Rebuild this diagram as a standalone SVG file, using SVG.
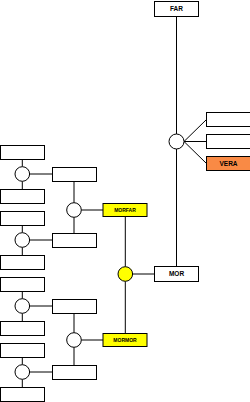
<svg xmlns="http://www.w3.org/2000/svg" width="250" height="402" viewBox="0 0 250 402">
<style>
.b{fill:#fff;stroke:#000;stroke-width:1}
.y{fill:#ffff00;stroke:#000;stroke-width:1}
.o{fill:#f98a45;stroke:#000;stroke-width:1}
.c{fill:#fff;stroke:#000;stroke-width:1}
.cy{fill:#ffff00;stroke:#000;stroke-width:1}
.l{stroke:#000;stroke-width:1;fill:none}
.t{font-family:"Liberation Sans",Arial,sans-serif;font-weight:bold;font-size:6.5px;text-anchor:middle;fill:#000}
.ts{font-family:"Liberation Sans",Arial,sans-serif;font-weight:bold;font-size:5px;text-anchor:middle;fill:#000}
</style>
<rect width="250" height="402" fill="#fff"/>
<g id="connectors">
<path class="l" d="M176.5 16.5V134M176.5 149V266.5"/>
<path class="l" d="M184 141.5L206.5 119.5M184 141.5H206.5M184 141.5L206.5 163.5"/>
<path class="l" d="M132.6 274H154.5M125.3 216.5V266.7M125.3 281.3V333.5"/>
<path class="l" d="M81.3 210H103M74 181.5V202.7M74 217.3V233.5"/>
<path class="l" d="M81.3 340H103M74 313.5V332.7M74 347.3V365.5"/>
<path class="l" d="M22.3 159.5V166.7M22.3 181.3V189.5M29.6 174H52.5"/>
<path class="l" d="M22.3 225.5V232.7M22.3 247.3V255.5M29.6 240H52.5"/>
<path class="l" d="M22.3 291.5V298.7M22.3 313.3V321.5M29.6 306H52.5"/>
<path class="l" d="M22.3 357.5V364.7M22.3 379.3V387.5M29.6 372H52.5"/>
</g>
<g id="far"><rect class="b" x="154.5" y="1.5" width="44" height="15"/><text class="t" x="176.5" y="11.3">FAR</text></g>
<g id="u1"><circle class="c" cx="176.5" cy="141.5" r="7.5"/></g>
<g id="child1"><rect class="b" x="206.5" y="112.5" width="44" height="14"/></g>
<g id="child2"><rect class="b" x="206.5" y="134.5" width="44" height="14"/></g>
<g id="vera"><rect class="o" x="206.5" y="156.5" width="44" height="14"/><text class="t" x="228.5" y="166">VERA</text></g>
<g id="mor"><rect class="b" x="154.5" y="266.5" width="44" height="15"/><text class="t" x="176.5" y="276.3">MOR</text></g>
<g id="u2"><circle class="cy" cx="125.3" cy="274" r="7.3"/></g>
<g id="morfar"><rect class="y" x="103" y="203.5" width="44" height="13"/><text class="ts" x="125" y="211.8">MORFAR</text></g>
<g id="mormor"><rect class="y" x="103" y="333.5" width="44" height="13"/><text class="ts" x="125" y="341.8">MORMOR</text></g>
<g id="u3"><circle class="c" cx="74" cy="210" r="7.3"/></g>
<g id="u4"><circle class="c" cx="74" cy="340" r="7.3"/></g>
<g id="b1"><rect class="b" x="52.5" y="167.5" width="44" height="14"/></g>
<g id="b2"><rect class="b" x="52.5" y="233.5" width="44" height="14"/></g>
<g id="b3"><rect class="b" x="52.5" y="299.5" width="44" height="14"/></g>
<g id="b4"><rect class="b" x="52.5" y="365.5" width="44" height="14"/></g>
<g id="u5"><circle class="c" cx="22.3" cy="174" r="7.3"/></g>
<g id="u6"><circle class="c" cx="22.3" cy="240" r="7.3"/></g>
<g id="u7"><circle class="c" cx="22.3" cy="306" r="7.3"/></g>
<g id="u8"><circle class="c" cx="22.3" cy="372" r="7.3"/></g>
<g id="a1"><rect class="b" x="0.5" y="145.5" width="44" height="14"/></g>
<g id="a2"><rect class="b" x="0.5" y="189.5" width="44" height="14"/></g>
<g id="a3"><rect class="b" x="0.5" y="211.5" width="44" height="14"/></g>
<g id="a4"><rect class="b" x="0.5" y="255.5" width="44" height="14"/></g>
<g id="a5"><rect class="b" x="0.5" y="277.5" width="44" height="14"/></g>
<g id="a6"><rect class="b" x="0.5" y="321.5" width="44" height="14"/></g>
<g id="a7"><rect class="b" x="0.5" y="343.5" width="44" height="14"/></g>
<g id="a8"><rect class="b" x="0.5" y="387.5" width="44" height="14"/></g>
</svg>
